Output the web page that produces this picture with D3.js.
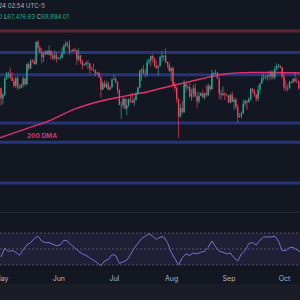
<!DOCTYPE html>
<html lang="en">
<head>
<meta charset="UTF-8">
<title>BTC/USD daily</title>
<script src="https://d3js.org/d3.v7.min.js"></script>
<style>
  html, body { margin: 0; padding: 0; background: #131722; }
  svg { display: block; }
  text { font-family: "Inter", "Noto Sans", sans-serif; }
</style>
</head>
<body>
<svg width="300" height="300"></svg>
<script>
// daily candles, Apr 30 -> Oct 9 2024
const firstOpen = 63840;
const closes = [
  60640,
  58250,59120,62890,63890,64030,63160,62330,61190,63050,60790,60790,61450,62900,61550,66270,65230,67050,66940,66280,71450,70140,69120,67930,68530,69260,68500,69400,68300,67600,68360,67490,
  67710,67750,68800,70570,71080,70790,69340,69310,69650,69500,67320,68240,66760,66010,66190,66640,66490,65150,64960,64830,64100,64250,63180,60280,61800,60860,61680,60320,60890,62680,
  62850,62030,60170,56660,56660,58230,55850,56700,58050,57720,57340,57890,59200,60800,64720,65040,64090,63970,66710,67160,68160,67530,65930,65370,65780,67910,68250,68250,66780,66190,64620,
  65350,61400,60680,58120,53990,56030,55030,61710,60880,60940,58710,59350,60610,58740,57560,58880,59480,58480,59490,59010,61160,60380,64090,64180,64230,62830,59420,59030,59370,59120,58970,
  57300,59110,57470,57970,56160,53950,54140,54840,57020,57650,57340,58130,60570,60010,59180,58210,60310,61760,62950,63190,63350,63580,63340,64260,63140,65180,65790,65890,65600,63330,
  60810,60650,60750,62080,62090,62820,62220,62130,60580
];
const highs = [
  64700,
  60800,59600,63300,64500,64500,65500,64400,62900,63300,63400,61500,61800,63400,63100,66400,66700,67400,67400,67600,71500,71900,70600,70000,69200,69500,69500,70600,69500,68900,69500,69000,
  67900,68400,70200,71000,71700,71600,71950,69500,69900,70100,69600,70000,68400,67300,66400,66900,67200,66500,65700,66400,65000,64500,64500,63400,62300,62500,62300,62200,61200,62900,
  63800,63300,62300,60500,57500,58500,58200,58200,58300,59400,59500,58500,59800,61000,64900,65300,66100,65100,67400,67600,68300,68500,67800,67100,66100,68200,69400,68300,70000,66900,66800,
  65600,65700,62100,61100,58300,57000,57700,62700,61700,61400,61800,60500,61500,61700,59800,59800,59600,60200,59600,61400,61800,61400,64900,64500,65000,64400,63200,60200,61100,59800,59400,
  59000,59400,59800,58500,58300,56900,54800,55200,58000,58000,57900,58600,60600,60600,60400,59200,61300,61800,63900,64100,63600,64000,64800,64800,64800,65800,66500,66300,66000,65600,
  64100,62400,61500,62400,62400,63000,64500,63200,62600
];
const lows = [
  59200,
  56550,56900,58800,62600,62900,62800,62300,60800,60700,60200,60500,60600,60800,61100,61400,64700,65100,66600,66100,66100,69200,68900,66400,66800,68500,68400,68300,67300,67200,67200,66700,
  67400,67300,67600,68500,70200,70100,68500,69200,69100,69200,66100,66900,66300,65100,65900,65900,65100,64100,64700,64500,63400,63900,63100,58400,60300,60700,60600,60100,60300,60700,
  62500,61800,59400,56800,53500,56000,55700,54300,56300,57200,57100,56500,57800,59400,60600,62400,63900,63200,63300,66200,65800,66600,65500,65100,63500,65800,66700,67100,66500,65300,64500,
  62300,61200,59900,57300,49050,53900,54600,54800,59600,60300,58400,57700,58400,58500,56100,57100,58800,58400,57900,58600,58800,59800,60300,63600,63800,62800,58100,57900,58800,57900,58700,
  57200,57100,57400,55600,55700,52600,53700,53600,54600,56400,55600,57300,57700,59500,58700,57500,57600,59200,61600,62400,62800,62400,62700,62600,62700,62700,64800,65400,65300,62900,
  60200,59900,59900,60500,61700,61800,62100,61900,60300
];

// 200 day moving average, days counted from May 1
const dmaDays = [-1, 13, 27, 40, 54, 67, 81, 94, 108, 121, 135, 148, 162];
const dmaVals = [49000, 51100, 53200, 55800, 57650, 58800, 60000, 61400, 62800, 63950, 64300, 64300, 64200];

// RSI every second day from May 1
const rsiStep = 2;
const rsiVals = [40,51,47,48,46,42,49,55,58,63,66,60,58,58,56,54,55,61,60,55,51,47,44,42,39,36,33,29,35,37,
  43,42,32,34,36,43,51,57,63,66,69,66,62,65,65,58,46,38,30,39,44,42,45,44,46,47,52,60,53,47,
  46,44,45,39,35,44,48,57,58,55,61,65,65,65,66,60,48,48,52,52,49,46];
const rsiLevels = [70, 50, 30];

// horizontal levels
const redLevels = [74000];
const blueLevels = [69000, 63800, 52500, 48000, 38500];

const svg = d3.select('svg');
const W = 300, H = 300;

svg.append('rect').attr('width', W).attr('height', H).attr('fill', '#131722');

const may1 = new Date(2024, 4, 1);
const x = d3.scaleTime()
  .domain([may1, new Date(2024, 9, 1)])
  .range([1, 284]);
const y = d3.scaleLinear()
  .domain([38500, 74000])
  .range([183, 31]);
const ry = d3.scaleLinear()
  .domain([30, 70])
  .range([265, 233]);

// levels
svg.selectAll('.red-level')
  .data(redLevels)
  .enter().append('line')
  .attr('x1', 0).attr('x2', W)
  .attr('y1', d => y(d)).attr('y2', d => y(d))
  .attr('stroke', '#5e2433').attr('stroke-width', 3);

svg.selectAll('.blue-level')
  .data(blueLevels)
  .enter().append('line')
  .attr('x1', 0).attr('x2', W)
  .attr('y1', d => y(d)).attr('y2', d => y(d))
  .attr('stroke', '#27347a').attr('stroke-width', 3);

// 200 DMA
const dma = dmaDays.map((d, i) => ({ date: d3.timeDay.offset(may1, d), v: dmaVals[i] }));
svg.append('path')
  .datum(dma)
  .attr('fill', 'none')
  .attr('stroke', '#e0306e')
  .attr('stroke-width', 1.4)
  .attr('d', d3.line().curve(d3.curveMonotoneX).x(d => x(d.date)).y(d => y(d.v)));

svg.append('text')
  .attr('x', 27).attr('y', 137.5)
  .attr('fill', '#d63470')
  .attr('font-size', 6.5)
  .attr('font-weight', 700)
  .text('200 DMA');

// candles
const start = new Date(2024, 3, 30);
const candles = closes.map((c, i) => ({
  date: d3.timeDay.offset(start, i),
  open: i ? closes[i - 1] : firstOpen,
  close: c,
  high: highs[i],
  low: lows[i]
}));
const up = '#22ab94', down = '#f23f5b';

const cg = svg.append('g');
cg.selectAll('line')
  .data(candles)
  .enter().append('line')
  .attr('x1', d => x(d.date)).attr('x2', d => x(d.date))
  .attr('y1', d => y(d.high)).attr('y2', d => y(d.low))
  .attr('stroke', d => d.close >= d.open ? up : down)
  .attr('stroke-width', 0.7);
cg.selectAll('rect')
  .data(candles)
  .enter().append('rect')
  .attr('x', d => x(d.date) - 0.7)
  .attr('width', 1.4)
  .attr('y', d => y(Math.max(d.open, d.close)))
  .attr('height', d => Math.max(0.8, Math.abs(y(d.open) - y(d.close))))
  .attr('fill', d => d.close >= d.open ? up : down);

// header
svg.append('text')
  .attr('x', 45).attr('y', 8)
  .attr('text-anchor', 'end')
  .attr('fill', '#b2b5be')
  .attr('font-size', 6)
  .text('2024 02:54 UTC-5');

const hdr = svg.append('text')
  .attr('x', 69).attr('y', 19)
  .attr('text-anchor', 'end')
  .attr('font-size', 6);
hdr.append('tspan').attr('fill', '#22ab94').text('20 ');
hdr.append('tspan').attr('fill', '#b2b5be').text('L');
hdr.append('tspan').attr('fill', '#22ab94').text('67,476.63 ');
hdr.append('tspan').attr('fill', '#b2b5be').text('C');
hdr.append('tspan').attr('fill', '#22ab94').text('68,894.01');

// RSI pane
svg.append('line')
  .attr('x1', 0).attr('x2', W).attr('y1', 212.5).attr('y2', 212.5)
  .attr('stroke', '#222634').attr('stroke-width', 1);

svg.append('rect')
  .attr('x', 0).attr('width', W)
  .attr('y', ry(70)).attr('height', ry(30) - ry(70))
  .attr('fill', 'rgba(126,87,194,0.12)');

svg.selectAll('.rsi-level')
  .data(rsiLevels)
  .enter().append('line')
  .attr('x1', 0).attr('x2', W)
  .attr('y1', d => ry(d)).attr('y2', d => ry(d))
  .attr('stroke', 'rgba(150,150,165,0.45)')
  .attr('stroke-dasharray', '2,2');

const rsi = rsiVals.map((v, i) => ({ date: d3.timeDay.offset(may1, i * rsiStep), v }));
svg.append('path')
  .datum(rsi)
  .attr('fill', 'none')
  .attr('stroke', '#7f6fcf')
  .attr('stroke-width', 1)
  .attr('d', d3.line().x(d => x(d.date)).y(d => ry(d.v)));

// bottom strip + time axis
svg.append('rect')
  .attr('x', 0).attr('y', 284).attr('width', W).attr('height', 16)
  .attr('fill', '#1a1d28');

const axis = svg.append('g')
  .attr('transform', 'translate(0,274)')
  .call(d3.axisBottom(x)
    .ticks(d3.timeMonth.every(1))
    .tickFormat(d3.timeFormat('%b'))
    .tickSize(0)
    .tickPadding(2));
axis.select('.domain').remove();
axis.selectAll('text')
  .attr('fill', '#b2b5be')
  .attr('font-size', 7)
  .attr('font-family', 'Inter, sans-serif');
</script>
</body>
</html>
